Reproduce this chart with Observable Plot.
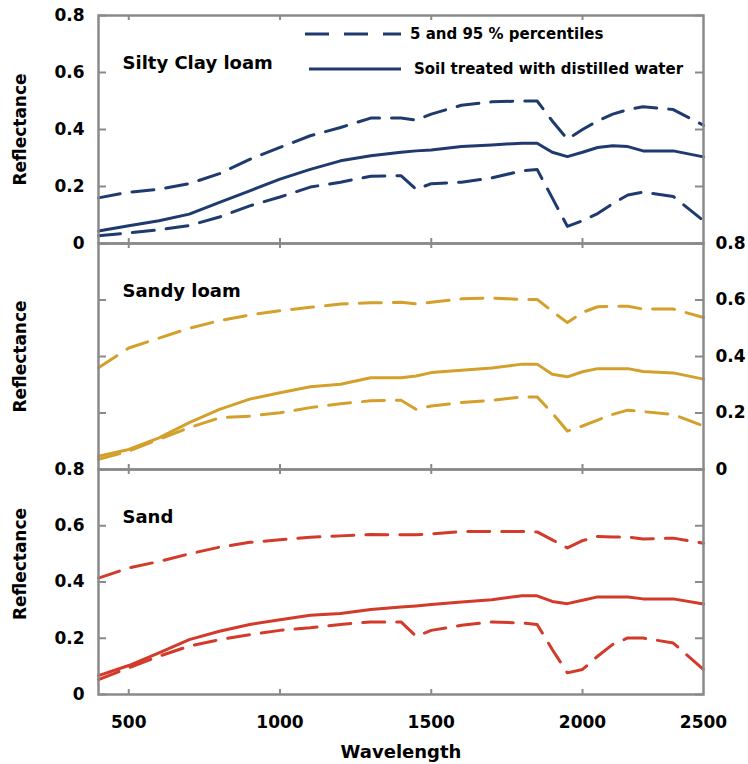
<!DOCTYPE html>
<html><head><meta charset="utf-8">
<script src="https://cdn.jsdelivr.net/npm/d3@7"></script>
<script src="https://cdn.jsdelivr.net/npm/@observablehq/plot@0.6"></script>
<style>
body{margin:0;background:#fff;}
#chart{position:relative;width:748px;height:764px;font-family:"DejaVu Sans",sans-serif;}
#chart svg{overflow:visible;display:block;position:absolute;left:0;}
</style></head><body><div id="chart"></div>
<script>
// ---- data ----
const wavelength = [400,500,600,700,800,900,1000,1100,1200,1300,1400,1450,1500,1600,1700,1800,1850,1900,1950,2000,2050,2100,2150,2200,2300,2400];

const siltyP95  = [.16,.18,.19,.21,.245,.295,.337,.378,.407,.44,.44,.433,.454,.485,.497,.50,.50,.43,.366,.40,.43,.454,.47,.48,.47,.415];
const siltyMean = [.044,.062,.08,.103,.144,.185,.226,.26,.29,.308,.32,.325,.328,.34,.346,.352,.352,.32,.305,.32,.337,.343,.34,.325,.325,.304];
const siltyP5   = [.027,.037,.048,.063,.093,.132,.163,.198,.215,.236,.238,.19,.21,.215,.23,.255,.26,.16,.06,.08,.105,.14,.17,.18,.165,.08];

const sandyP95  = [.36,.43,.465,.50,.527,.547,.562,.574,.586,.59,.592,.586,.592,.604,.607,.602,.602,.56,.52,.556,.576,.578,.578,.568,.568,.538];
const sandyMean = [.047,.071,.112,.166,.213,.249,.272,.293,.302,.325,.325,.331,.343,.351,.359,.373,.373,.337,.328,.346,.357,.357,.357,.347,.342,.32];
const sandyP5   = [.036,.065,.107,.148,.183,.189,.201,.219,.233,.243,.245,.213,.225,.237,.245,.257,.257,.2,.136,.154,.175,.195,.21,.205,.195,.154];

const sandP95   = [.414,.45,.473,.50,.524,.541,.55,.559,.564,.569,.568,.568,.571,.579,.58,.58,.578,.55,.521,.547,.562,.56,.56,.553,.556,.538];
const sandMean  = [.067,.103,.148,.195,.225,.249,.266,.282,.288,.302,.311,.315,.32,.329,.337,.351,.351,.331,.323,.335,.347,.347,.347,.34,.34,.322];
const sandP5    = [.053,.095,.136,.172,.195,.213,.228,.237,.249,.258,.258,.207,.228,.246,.258,.254,.249,.16,.077,.089,.136,.178,.201,.201,.183,.089];

const panelNames = ["Silty Clay loam", "Sandy loam", "Sand"];
const yTicks = [0, 0.2, 0.4, 0.6, 0.8];
const yTickLabels = ["0", "0.2", "0.4", "0.6", "0.8"];
const xTicks = [500, 1000, 1500, 2000, 2400];
const xTickLabels = ["500", "1000", "1500", "2000", "2500"];
const legendLabels = ["5 and 95 % percentiles", "Soil treated with distilled water"];
const yTitle = "Reflectance";
const xTitle = "Wavelength";

// ---- drawing ----
const W = 748, ML = 98, MR = 45;
const FW = W - ML - MR;
const gray = "#8a8a8a";
const font = "'DejaVu Sans', sans-serif";
const chart = document.getElementById("chart");

function rows(vals) { return wavelength.map((w, i) => ({w, v: vals[i]})); }

function panel(o) {
  const H = o.height - o.marginTop - o.marginBottom;
  const marks = [
    Plot.tickY(yTicks, {y: d => d, stroke: gray, strokeWidth: 2, insetRight: FW - 8}),
    Plot.tickY(yTicks, {y: d => d, stroke: gray, strokeWidth: 2, insetLeft: FW - 8}),
    Plot.tickX(xTicks.slice(0, 4), {x: d => d, stroke: gray, strokeWidth: 2, insetBottom: H - 5}),
    Plot.tickX(xTicks.slice(0, 4), {x: d => d, stroke: gray, strokeWidth: 2, insetTop: H - 5}),
    Plot.line(rows(o.p95), {x: "w", y: "v", stroke: o.color, strokeWidth: 3, strokeDasharray: "22,12"}),
    Plot.line(rows(o.p5), {x: "w", y: "v", stroke: o.color, strokeWidth: 3, strokeDasharray: "22,12"}),
    Plot.line(rows(o.mean), {x: "w", y: "v", stroke: o.color, strokeWidth: 3}),
    Plot.frame({stroke: gray, strokeWidth: 2.5}),
    Plot.axisY({anchor: o.ySide, ticks: yTicks, tickSize: 0, tickPadding: o.ySide === "left" ? 14 : 12,
      tickFormat: d => yTickLabels[yTicks.indexOf(d)], fontSize: 17, fontWeight: "bold", fill: "#000", label: null}),
    Plot.text([o.name], {frameAnchor: "top-left", dx: 24, dy: 48, text: d => d, textAnchor: "start", lineAnchor: "middle",
      fontSize: 18, fontWeight: "bold", fill: "#000"}),
    Plot.text([yTitle], {frameAnchor: "left", dx: -78, dy: o.titleDy, text: d => d, rotate: -90,
      textAnchor: "middle", lineAnchor: "middle", fontSize: 17, fontWeight: "bold", fill: "#000"})
  ];
  if (o.showX) {
    marks.push(Plot.axisX({anchor: "bottom", ticks: xTicks, tickSize: 0, tickPadding: 21,
      tickFormat: d => xTickLabels[xTicks.indexOf(d)], fontSize: 17, fontWeight: "bold", fill: "#000", label: null}));
    marks.push(Plot.text([xTitle], {frameAnchor: "bottom", dy: 58, text: d => d, lineAnchor: "middle",
      fontSize: 18, fontWeight: "bold", fill: "#000"}));
  }
  const svg = Plot.plot({
    width: W, height: o.height,
    marginLeft: ML, marginRight: MR, marginTop: o.marginTop, marginBottom: o.marginBottom,
    x: {domain: [400, 2400], axis: null},
    y: {domain: [0, 0.8], axis: null},
    style: {fontFamily: font, background: "transparent", overflow: "visible"},
    marks
  });
  svg.style.top = o.top + "px";
  chart.appendChild(svg);
}

panel({name: panelNames[0], color: "#1e3a6e", p95: siltyP95, mean: siltyMean, p5: siltyP5,
  height: 243, marginTop: 15, marginBottom: 0, top: 0, ySide: "left", titleDy: 0});
panel({name: panelNames[1], color: "#d4a02c", p95: sandyP95, mean: sandyMean, p5: sandyP5,
  height: 226, marginTop: 0, marginBottom: 0, top: 243, ySide: "right", titleDy: 0});
panel({name: panelNames[2], color: "#d23a2a", p95: sandP95, mean: sandMean, p5: sandP5,
  height: 295, marginTop: 0, marginBottom: 70, top: 469, ySide: "left", titleDy: -18, showX: true});

// legend (inside the top panel)
const ns = "http://www.w3.org/2000/svg";
const lg = document.createElementNS(ns, "svg");
lg.setAttribute("width", W); lg.setAttribute("height", 100);
lg.style.top = "0px";
const navy = "#1e3a6e";
function el(tag, attrs, text) {
  const e = document.createElementNS(ns, tag);
  for (const k in attrs) e.setAttribute(k, attrs[k]);
  if (text) e.textContent = text;
  lg.appendChild(e); return e;
}
el("line", {x1: 305, x2: 401, y1: 34, y2: 34, stroke: navy, "stroke-width": 3, "stroke-dasharray": "24,15"});
el("line", {x1: 309, x2: 401, y1: 69, y2: 69, stroke: navy, "stroke-width": 3});
el("text", {x: 410, y: 34, "dominant-baseline": "central", "font-family": font, "font-size": 15, "font-weight": "bold"}, legendLabels[0]);
el("text", {x: 414, y: 69, "dominant-baseline": "central", "font-family": font, "font-size": 15, "font-weight": "bold"}, legendLabels[1]);
chart.appendChild(lg);
</script></body></html>
